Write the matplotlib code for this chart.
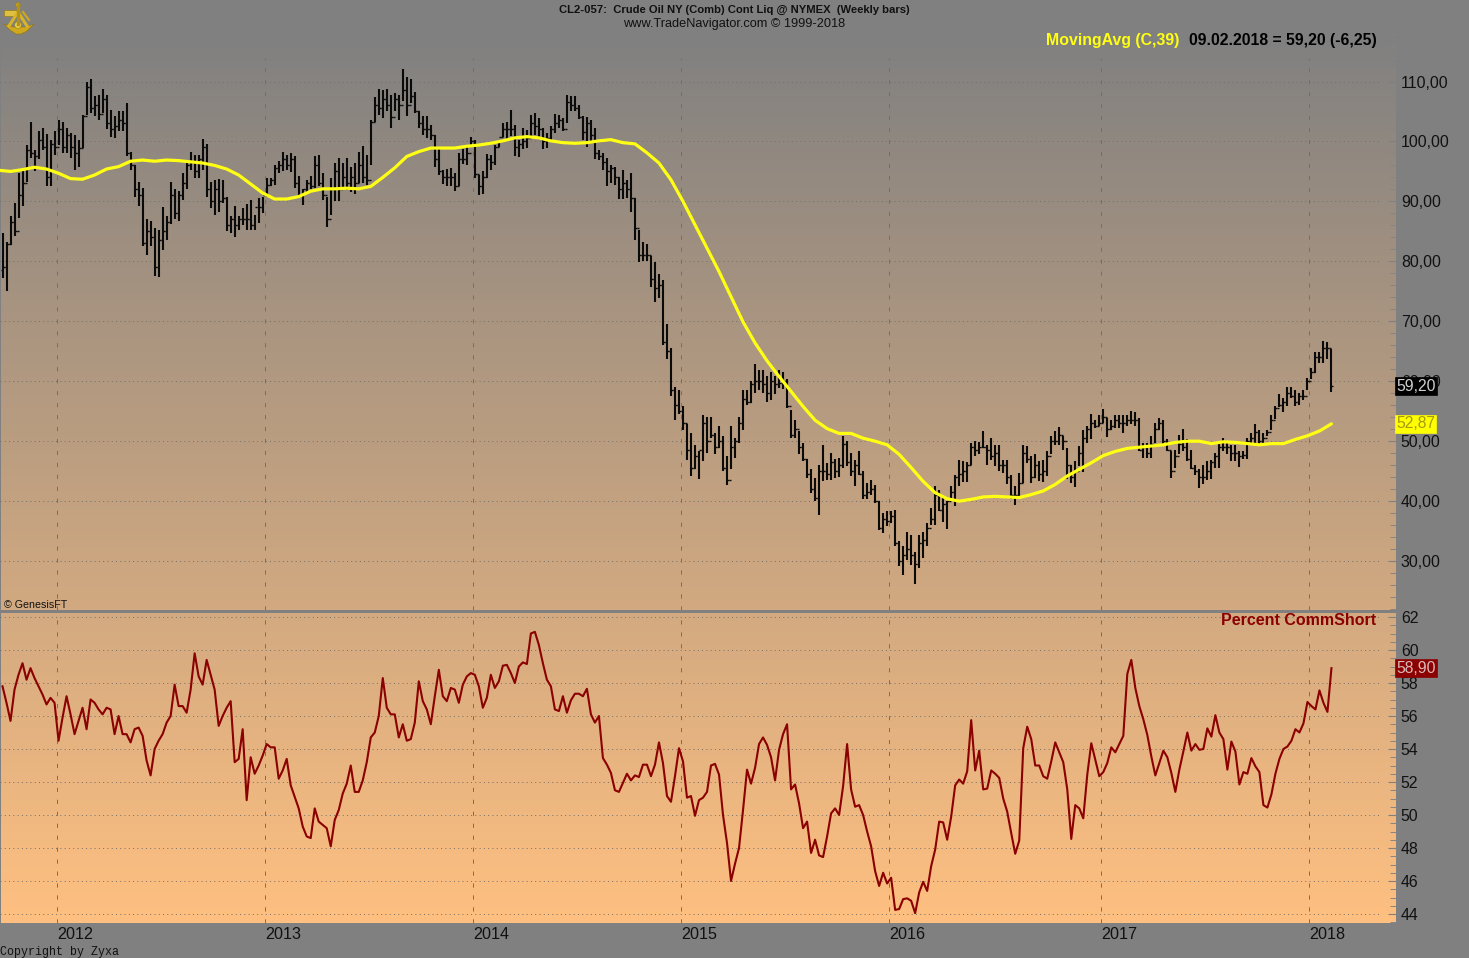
import numpy as np
import matplotlib
matplotlib.use("Agg")
import matplotlib.pyplot as plt
from matplotlib.patches import Polygon, Circle, Rectangle
from matplotlib.ticker import FixedLocator, FuncFormatter

plt.rcParams['font.family'] = ['Liberation Sans', 'DejaVu Sans']

highs = [84.7,83.3,87.5,89.7,94.7,95,99.4,103.3,98.6,101.7,
102.3,101.2,100.3,101.7,103.6,103.3,102.2,101.4,101.1,100.3,
104.4,110,110.4,107.5,107.8,108.7,107.8,105.3,104.2,105,
105,106.4,98.3,96.1,93.3,92.2,87,86.7,85.6,85.3,
89.1,87.5,93.2,92,91.7,94.7,96.4,98.2,97.8,97.8,
100.4,99.6,93.3,93.6,93.8,93.6,90.8,87.5,89.3,87.5,
88.9,89.6,90.3,87.8,90.6,90.8,93.9,93.9,96.1,96.8,
98.2,97.8,98,97.5,94.3,92.1,93.6,94.2,97.5,97.8,
94.8,90.8,93.9,96.4,97.2,96.4,97.3,95.8,96.4,98.3,
99.2,97.8,103.6,107.4,108.8,108.6,108.7,107.8,108,107.8,
112.1,110.7,110.4,108.3,105,104.2,104.2,102.8,101.1,98.9,
95.3,95.4,95.5,94.7,98,98.7,99,100.7,100.3,94.4,
95,97.9,97.8,99.4,100.3,103,103.3,105.2,102.8,100.3,
102.2,101.9,104.4,104.8,103.9,102.2,101.4,102.6,104.6,104.4,
103.9,107.7,107.6,107.5,106.1,104.2,104,103.6,102.2,98.6,
98,97.2,96.1,95.8,94.1,95.2,93.6,94.8,90.5,85.3,
83.2,82.9,80.9,79.9,77.9,76.9,69.6,65.6,59,58.5,
55.8,52.8,51.4,49.3,48.3,54.3,54.1,54.1,51.4,52.5,
50.9,47.5,52.6,50.5,54.1,58.5,58.6,60.1,62.8,61.9,
61.8,60.8,61.6,60.8,61.9,61.6,60.3,55.2,53.6,51.7,
49.7,47,45.4,43.8,46.1,49.4,46.4,48.1,47,47.2,
50.8,50.1,48,46.9,48.4,45,43,43.6,42.7,40,
38.1,38.3,38.3,38.5,33.3,32.5,34.8,34.4,31.5,34.4,
34.8,36.3,38.8,42.5,41.9,40.8,40,42.5,44.4,46.9,
46.7,46.5,49.7,50,49.8,51.7,49.4,50.6,49.4,49.4,
46.9,46.9,44.4,42.5,44.7,49.3,49.2,47.6,47.8,46.7,
46.8,48.3,50.8,51.7,52.3,50.9,48.9,46.1,46.7,49.2,
51.9,52.5,54.6,53.6,54.3,55.4,53.9,53.6,54.3,54.3,
54.3,54.3,55,54.8,53.9,49.7,49.7,50.8,53.1,53.9,
53.5,50.3,48.3,48.6,51.1,52.1,50.4,48.6,46.1,45.3,
46.1,46.7,46.9,48.1,49.7,50.6,50,49.4,49.4,48.3,
48.3,50.6,51.3,52.9,51.8,51.4,51.9,54.3,55.8,57.9,
57.2,59.1,59.1,58.5,58.1,58.5,60.6,62.2,64.8,64.8,
66.7,66.5,65.4]

lows = [77.2,75,82.8,84.2,87.2,89.2,93.2,97.2,95,97,
98.6,92.5,92.5,97.8,99.4,98,98,97.2,95.3,95.8,
98.9,104.4,104.7,104.2,103.6,104.7,102,100.8,100.6,101.7,
101.7,97.5,95.3,90.8,89.2,82.5,81.1,82.5,77.5,77.4,
81.9,83.6,86.3,87,86.8,90.3,92,95.3,93.9,93.9,
95.3,90.8,88.9,87.8,88.3,89.7,85,84.7,84,85.3,
86.1,85.3,85.3,85.2,86.4,88,90.8,92.6,92.8,94.7,
95,95.2,94.9,92.2,90.8,89.4,91.5,92,92.2,92.5,
90.3,85.8,87.8,90,90,92.2,91.9,91.6,91.3,93,
93,92.8,96.1,103.3,104.4,103.9,105,102.2,105,103.5,
106.7,104.2,106.4,104.7,102.2,101.1,100.5,100.3,95.8,94.4,
92.9,92.5,92.6,91.8,92.5,96.3,96.1,99,93.9,91.1,
91.3,93.9,95.2,96.1,99,100.8,100.3,100.9,97.5,97.4,
98.7,98.9,100.7,101.1,100.8,98.7,98.9,100.3,101.4,102.2,
101.7,103,105,105,103.7,100.3,99,100,97,96.9,
95.3,92.6,93.1,92.8,90.4,90.4,90.5,88.3,83.6,79.9,
80,80,75.8,73.2,73.9,66.1,63.7,57.5,53.6,54.6,
51.9,46.9,44.2,45.4,43.7,46.7,48.1,50.5,47.8,48.9,
45,42.7,45.4,47.2,49.7,51.9,56.1,56.4,58.1,58.6,
58,56.5,56.8,57.8,58.9,58.7,55.5,50.5,50.5,47.9,
46.7,43.8,41.3,40,37.7,43.3,43.5,43.5,43.8,44,
45.5,45.9,44.2,42.6,44.4,40.3,40.3,41.1,39.7,35.2,
34.7,35.8,36.3,32.5,29.1,27.7,30.2,29.4,26.2,28.8,
30.5,32.5,36,36,38.3,36.6,35.3,40,39.2,42.5,
43.2,43.2,46.1,47.6,47.8,48.9,46.1,46.8,45.9,45,
44.7,42.8,40.3,39.3,40.8,43.1,46.4,43.1,43.9,43.3,
43.2,44.2,47.8,49.4,49.4,48.6,43.7,43.1,42.4,45.8,
44.8,49.7,50.3,52.2,52.5,53.1,50.7,51.9,52.2,52.2,
51.3,52.5,52.8,52.6,48.3,47.2,47.2,47.2,49.7,51.9,
49.2,48.3,43.9,45.6,47.8,48.3,46.7,45.3,44.4,42.2,
42.8,43.6,43.7,45.6,45.6,48.3,47.8,46.7,46.7,45.7,
47.1,47.1,49.4,49.7,49.3,49.3,50.8,51.8,53.7,55.7,
54.8,55.9,57.2,55.9,56.1,56.8,58.5,60.3,61.4,63.1,
63.1,63.7,58.2]

closes = [79,82.9,86.5,85,91,93,98.5,98,97.5,100.2,
99,94,99.5,99,102,99,101,99,98,98.9,
104.2,109,105.5,106,104.5,107,103,102,102.5,103.5,
103,98,96,92,91,83,85,84,79,83.5,
85,86.5,91,88,91,93,96,96.5,95,97,
99,92,90,92,90,90.5,86,87,86,87,
87,87,86,89,89,91,92.8,93.5,95.5,96,
97,96,97,93,91,92,93,92.5,96,93,
91,87,92,95,92,94,93,94,93,96,
94,93.5,103.3,106,105.5,107,106,104,107,106,
108.5,106,107.5,105,103,102,102,101,97,95,
94,94,94,92.5,97,97,98,100,94.5,92.5,
94,97,96.5,99,100.8,102,102,102,99,99.5,
100,100.5,103,102.5,102,100,100.5,102,103,103.5,
102,106.5,106,105.5,104,101.5,103,101,98,97.5,
96.5,95,95.5,94,92,93,92,90.5,85.5,81,
81,81,77,75.5,76,66.5,65,58.5,56,55,
53,48.5,45.5,47.5,48.5,53,50,51,49,50,
45.5,43.5,49,50,53,57,56.5,59.5,60,60,
59.5,58,60,59.5,59.7,60,55.8,51,52,49,
47,44.5,42,40.5,45,45,44.5,46.5,45,46,
49.5,46.5,45,46,44.5,41,41.5,42,40,35.5,
37,36.7,37.5,33,30,31,32,31,29.5,33,
33.5,35.5,37,41,38.5,39.5,40,41.5,44,44.5,
45,46,49,48.5,49,49,48.5,47.5,48,46,
46,44,41,41,43,48,47,44,46,44.5,
45,47.5,50,50,51,50,46,44,45,48,
50.5,52,53,52.5,53,54,52,52.5,53.5,53,
53,53.5,53.5,53.5,48.5,49,48,49.5,52,53,
50,48.5,45,47.5,49.5,49,47,45.5,45,44,
44,45,46.5,47.5,49,49,49,48,48,47.5,
47.7,50,50.5,51.5,50,50.5,51.5,53.5,55.5,56,
56.5,58,57.5,56.5,57.5,57.5,60,61.5,64,64,
65.5,65.5,59.2]

first_open = 78.5

# 39-week moving average, read every third week starting at week -1
ma_values = [95.2,95,95.3,95.7,95.4,94.7,93.8,93.7,94.4,95.4,95.8,96.7,96.9,96.7,
96.9,96.8,96.6,96.4,96,95.4,94.4,92.9,91.4,90.4,90.4,90.8,91.7,92.1,92.1,
92.2,92.1,92.5,94,95.6,97.5,98.3,98.9,98.9,98.9,99.2,99.4,99.7,100.1,100.6,
100.8,100.6,100.1,99.8,99.7,99.8,100.1,100.3,99.8,99.6,98.1,96.4,93.6,
90,86.1,82.2,78.3,74.1,69.9,66.4,63.4,60.8,58.3,55.8,53.5,52.1,51.3,51.3,
50.5,50,49.4,47.8,45.6,43.3,41.4,40.4,40,
40.3,40.7,40.8,40.7,40.6,41.1,41.7,42.8,44.2,45.3,46.4,47.6,48.3,48.8,49,
49.2,49.4,49.8,50,50,49.6,49.9,49.8,49.6,49.4,49.6,49.6,50.3,50.9,51.7,52.9]

pct_short = [57.8,56.8,55.7,57.6,58.5,59.2,58.2,58.9,58.3,57.8,
57.3,56.7,57.1,56.8,54.5,55.9,57.2,56.1,54.9,55.7,
56.5,55.2,57.0,56.8,56.4,56.1,56.5,56.4,54.9,56.0,
54.9,54.9,54.4,55.2,55.3,54.8,53.3,52.4,54.0,54.5,
54.9,55.6,56.0,57.9,56.6,56.6,56.2,57.6,59.8,58.4,
57.9,59.4,58.5,57.6,55.4,56.0,56.5,56.9,53.2,53.4,
55.2,50.9,53.5,52.5,53.0,53.6,54.3,54.1,54.1,52.2,
52.7,53.4,51.8,51.1,50.4,49.3,48.7,48.6,50.4,49.6,
49.4,49.2,48.1,49.7,50.3,51.3,51.9,53.0,51.4,51.4,
52.1,53.2,54.7,55.0,56.0,58.3,56.5,56.1,56.1,54.7,
55.5,54.5,54.6,55.6,58.1,56.9,56.4,55.5,57.2,58.8,
57.2,56.9,57.7,57.6,56.8,57.9,58.4,58.6,58.5,57.8,
56.5,57.1,58.5,57.7,58.1,59.05,59.1,58.6,58.0,59.0,
59.25,59.15,61.0,61.1,60.3,59.2,58.2,57.8,56.4,56.3,
57.2,56.2,56.95,57.35,57.35,57.2,57.65,56.1,55.6,56.0,
53.45,53.05,52.55,51.5,51.4,51.95,52.5,52.1,52.4,52.3,
53.05,53.05,52.35,53.05,54.4,53.15,51.15,50.8,52.35,54.05,
53.25,51.05,51.15,49.95,50.9,51.05,51.4,53.0,53.1,52.45,
50.0,48.3,46.0,47.05,48.0,50.3,52.75,51.9,52.85,54.3,
54.7,54.25,53.5,52.1,53.95,54.9,55.5,51.55,51.85,50.7,
49.2,49.6,47.7,48.5,47.55,47.45,48.7,50.1,50.4,50.0,
51.75,54.3,51.55,50.5,50.6,50.0,49.0,48.1,46.6,45.7,
46.5,45.85,46.2,44.25,44.3,44.9,44.95,44.8,44.05,45.3,
45.95,45.4,46.9,47.9,49.6,49.55,48.5,49.9,51.8,52.15,
51.9,52.65,55.75,52.7,53.9,51.55,51.6,52.7,52.5,52.25,
51.0,50.2,48.9,47.65,48.45,54.05,55.35,54.6,53.0,53.0,
52.35,52.2,53.25,54.4,53.8,53.2,51.55,48.55,50.6,50.4,
49.8,52.45,54.35,53.35,52.35,52.6,53.15,54.1,53.8,54.3,
54.8,58.55,59.4,57.7,56.6,55.8,54.85,53.55,52.4,53.15,
53.9,53.5,52.55,51.4,52.75,53.85,55.0,53.9,54.3,53.95,
54.0,55.25,54.75,56.05,55.0,54.6,52.75,54.45,53.85,51.85,
52.6,52.5,53.45,52.95,52.6,50.6,50.45,51.25,52.5,53.4,
54.0,54.15,54.5,55.2,55.0,55.55,56.85,56.6,56.4,57.55,
56.8,56.25,58.9]

year_labels = ['2012','2013','2014','2015','2016','2017','2018']
year_weeks = [13.6,65.6,117.5,169.5,221.5,274.5,326.5]
price_ticks = [30,40,50,60,70,80,90,100,110]
pct_ticks = [44,46,48,50,52,54,56,58,60,62]

W, H = 1469, 958
fig = plt.figure(figsize=(W/100, H/100), dpi=100, facecolor='#808080')

def axes_px(x0, y0, x1, y1, **kw):
    return fig.add_axes([x0/W, 1-y1/H, (x1-x0)/W, (y1-y0)/H], **kw)

# gradient backdrop
bg = axes_px(1, 32, 1396, 923)
bg.axis('off')
t = np.linspace(0, 1, 512)[:, None]
grad = np.dstack([128+127*t, 128+64*t, 128+0*t]).astype(np.uint8)
bg.imshow(grad, aspect='auto', interpolation='bilinear')

XL = (-0.625, 348.125)
GRID = '#736f68'
n = len(closes)
weeks = np.arange(n)

top = axes_px(0, 32, 1396, 610)
low = axes_px(0, 613, 1396, 923)
for ax in (top, low):
    ax.patch.set_alpha(0)
    for s in ax.spines.values():
        s.set_visible(False)
    ax.set_xlim(*XL)
    ax.yaxis.tick_right()

top.set_ylim(110-(610-81.5)/5.995, 110+(81.5-32)/5.995)
low.set_ylim(44-(923-914)/16.5, 44+(914-613)/16.5)

def style_axis(ax, ticks, minor_step, fmt):
    ax.yaxis.set_major_locator(FixedLocator(ticks))
    ax.yaxis.set_major_formatter(FuncFormatter(fmt))
    lo, hi = ticks[0]-minor_step*8, ticks[-1]+minor_step*8
    ax.yaxis.set_minor_locator(FixedLocator(np.arange(lo, hi+.01, minor_step)))
    ax.tick_params(axis='y', which='major', direction='in', length=6, width=0.8, color='#808080',
                   labelsize=11.4, labelcolor='#111111', pad=3.5)
    ax.tick_params(axis='y', which='minor', direction='in', length=4.5, width=0.7, color='#858585')
    ax.tick_params(axis='x', length=0)
    ax.hlines(ticks, XL[0], 344.25, colors=GRID, lw=0.7, linestyles=(0, (1, 3.4)), zorder=1)

style_axis(top, price_ticks, 2, lambda v, _: f'{v:.2f}'.replace('.', ','))
style_axis(low, pct_ticks, 0.5, lambda v, _: f'{v:.0f}')
top.set_xticks([])
low.set_xticks(year_weeks)
low.set_xticklabels(year_labels, ha='left', fontsize=11.6, color='#111111')
low.tick_params(axis='x', pad=3)

DASH = (0, (4.3, 8))
top.vlines(year_weeks, top.get_ylim()[0], 114, colors=GRID, lw=0.7, linestyles=DASH, zorder=1)
low.vlines(year_weeks, *low.get_ylim(), colors=GRID, lw=0.7, linestyles=DASH, zorder=1)

# OHLC bars
opens = [first_open] + closes[:-1]
top.vlines(weeks, lows, highs, colors='#0a0a0a', lw=1.5, zorder=3)
top.hlines(opens, weeks-0.5, weeks, colors='#0a0a0a', lw=1.0, zorder=3)
top.hlines(closes, weeks, weeks+0.5, colors='#0a0a0a', lw=1.0, zorder=3)

ma_weeks = np.arange(-1, n, 3)
top.plot(ma_weeks, ma_values, color='#ffff14', lw=2.3, zorder=4, solid_capstyle='round',
         solid_joinstyle='round')
low.plot(weeks, pct_short, color='#8b0000', lw=1.5, zorder=4)

# value tags
def tag(ax, v, txt, fc, tc):
    ax.text(1.0, v, txt, transform=ax.get_yaxis_transform(), ha='left', va='center', fontsize=11.3,
            color=tc, zorder=10, clip_on=False,
            bbox=dict(boxstyle='square,pad=0.08', fc=fc, ec=fc, lw=0.5))
tag(top, closes[-1], '59,20', '#000000', '#d0d0d0')
tag(top, ma_values[-1], '52,87', '#ffff00', '#a89a10')
tag(low, pct_short[-1], '58,90', '#8b0000', '#dcb8b8')

# separator
fig.add_artist(Rectangle((1/W, 1-613/H), 1395/W, 3/H, transform=fig.transFigure, fc='#808080', ec='none'))

# texts
def txt(x, y, s, **kw):
    fig.text(x/W, 1-y/H, s, va='center', **kw)
txt(734.5, 9.5, 'CL2-057:  Crude Oil NY (Comb) Cont Liq @ NYMEX  (Weekly bars)', ha='center', fontsize=8.1,
    fontweight='bold', color='#111111')
txt(734.5, 24.5, 'www.TradeNavigator.com © 1999-2018', ha='center', fontsize=9.2, color='#111111')
txt(1046, 40, 'MovingAvg (C,39)', ha='left', fontsize=11.4, fontweight='bold', color='#ffff14')
txt(1189, 40, '09.02.2018 = 59,20 (-6,25)', ha='left', fontsize=11.3, fontweight='bold', color='#000000')
txt(1376, 620.5, 'Percent CommShort', ha='right', fontsize=11.5, fontweight='bold', color='#8b0000')
txt(4.5, 604.5, '© GenesisFT', ha='left', fontsize=7.7, color='#111111')
txt(0, 952, 'Copyright by Zyxa', ha='left', fontsize=8.35, family=['Liberation Mono'], color='#111111')

# sextant logo
icon = axes_px(2, 2, 37, 36)
icon.set_xlim(2, 37); icon.set_ylim(36, 2); icon.axis('off'); icon.patch.set_alpha(0)
gold = '#d8b428'
dark = '#8f7410'
icon.add_patch(Polygon([[4,24],[13,27],[25,27],[34,24],[27,31],[21,34],[16,34],[10,30]], fc='#d0a820', ec=dark, lw=0.4))
icon.plot([18,9],[12,26], color=gold, lw=2.2)
icon.plot([18,27],[12,26], color=gold, lw=2.2)
icon.plot([18,18],[5,24], color='#b3921c', lw=2.4)
icon.plot([23,29],[12,20], color='#c9a824', lw=1.6)
icon.add_patch(Rectangle((4,10),13,5.5, fc='#e0c040', ec=dark, lw=0.4))
icon.add_patch(Circle((18,5),2.4, fc='#c9a824', ec=dark, lw=0.3))
icon.add_patch(Circle((18,25),3.4, fc='#e8cc48', ec=dark, lw=0.3))

fig.savefig('out.png', dpi=100, facecolor=fig.get_facecolor())
